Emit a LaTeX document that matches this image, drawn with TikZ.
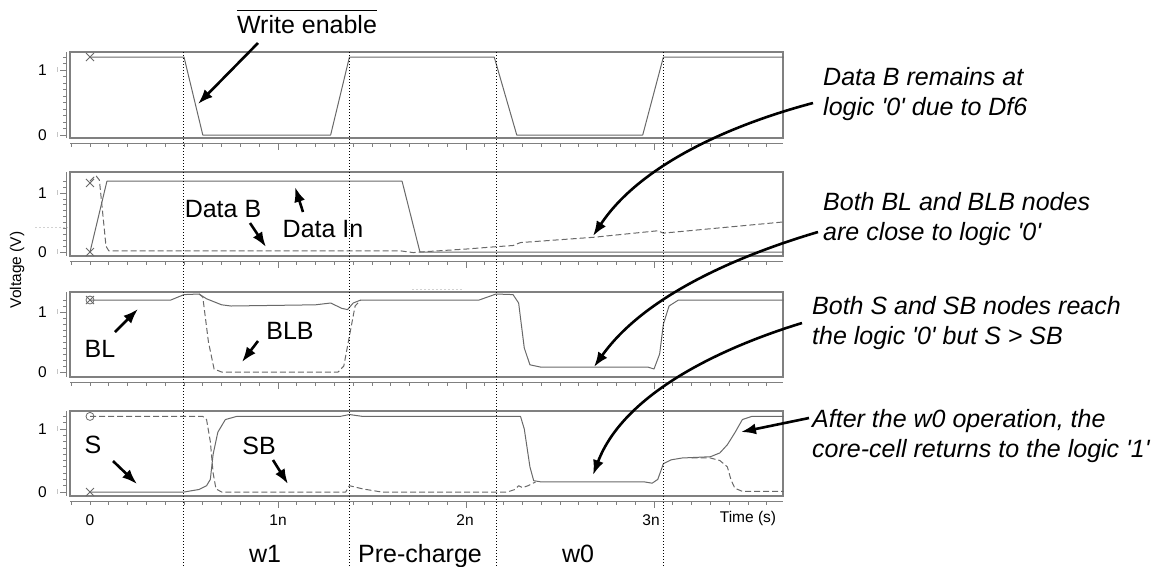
\documentclass[tikz,border=0pt]{standalone}
\usepackage{fontspec}
\setmainfont{Liberation Sans}
\usetikzlibrary{arrows.meta}
\definecolor{traceColor}{RGB}{105,105,105}
\definecolor{frameColor}{RGB}{128,128,128}
\tikzstyle{pixelGrid} = [x = 1pt, y = -1pt]
\tikzstyle{frameLine} = [color=frameColor, line width=1.4pt]
\tikzstyle{rulerLine} = [color=frameColor, line width=0.8pt]
\tikzstyle{faintLine} = [color=gray!35, line width=0.7pt, dash pattern=on 2pt off 2pt]
\tikzstyle{solidTrace} = [color=traceColor, line width=1pt, line join=round]
\tikzstyle{dashedTrace} = [color=traceColor, line width=1pt, line join=round, dash pattern=on 6pt off 3pt]
\tikzstyle{markLine} = [color=traceColor, line width=0.8pt]
\tikzstyle{phaseLine} = [color=black, line width=1pt, dash pattern=on 1pt off 2pt]
\tikzstyle{noteArrow} = [color=black, line width=2.6pt, -{Latex[length=15pt,width=11pt]}]
\tikzstyle{bigText} = [font=\fontsize{25}{30}\selectfont, inner sep=0pt, anchor=base]
\tikzstyle{noteText} = [font=\fontsize{25}{30}\selectfont\itshape, align=left, inner sep=0pt, anchor=north west]
\tikzstyle{tickText} = [font=\fontsize{15.5}{18}\selectfont, inner sep=0pt]
\newcommand{\straightQuote}{\textquotesingle}
\newcommand{\crossMark}[2]{\draw [markLine] (#1,#2) +(-4pt,-4pt) -- +(4pt,4pt) +(-4pt,4pt) -- +(4pt,-4pt);}
\newcommand{\circleMark}[2]{\draw [markLine] (#1,#2) circle (4pt);}
\newcommand{\panelFrame}[4]{
  \draw [frameLine] (70,#1) rectangle (783,#2);
  \draw [rulerLine] (66,#1) -- (66,#2);
  \foreach \level in {0,...,12} {
    \pgfmathsetmacro{\tickY}{#3 - \level * (#3 - #4) / 10}
    \draw [rulerLine] (63,\tickY) -- (66,\tickY);
  }
  \draw [rulerLine] (60,#3) -- (66,#3);
  \draw [rulerLine] (60,#4) -- (66,#4);
  \draw [color=gray!45, line width=0.8pt] (57,#3) +(0,-3) -- +(0,2);
  \draw [color=gray!45, line width=0.8pt] (57,#4) +(0,-3) -- +(0,2);
  \pgfmathsetmacro{\rulerY}{#2 + 5}
  \draw [rulerLine] (70,\rulerY) -- (783,\rulerY);
  \foreach \tickIndex in {-1,...,36} {
    \pgfmathsetmacro{\tickX}{90 + 18.8 * \tickIndex}
    \draw [rulerLine] (\tickX,\rulerY) -- +(0,4);
  }
  \foreach \tickX in {278,466,654} {
    \draw [rulerLine] (\tickX,\rulerY) -- +(0,7);
  }
}

\begin{document}
\begin{tikzpicture}[pixelGrid]
  \useasboundingbox (0,0) rectangle (1175,566);

  % panels: top, bottom, 0 V, 1 V
  \panelFrame{52}{138}{135}{70}
  \panelFrame{172}{256}{252}{193}
  \panelFrame{292}{377}{372}{312}
  \panelFrame{411}{496}{492}{429}
  \draw [faintLine] (35,227) -- (68,227);
  \draw [faintLine] (412,289) -- (463,289);

  % write enable
  \begin{scope}[shift={(90,135)}, x=188pt, y=65pt]
    \draw [solidTrace] (0,1.2) -- (0.5,1.2) -- (0.6,0) -- (1.28,0) -- (1.38,1.2) -- (2.15,1.2) -- (2.27,0) -- (2.94,0) -- (3.05,1.2) -- (3.69,1.2);
    \crossMark{0}{1.2}
  \end{scope}

  % data in / data b
  \begin{scope}[shift={(90,252)}, x=188pt, y=59pt]
    \draw [solidTrace] (0,0) -- (0.09,1.2) -- (1.66,1.2) -- (1.755,0) -- (3.69,0);
    \draw [dashedTrace] (0,1.2) -- (0.03,1.3) -- (0.05,1.22) -- (0.085,0.1) -- (0.1,0.02) -- (1.65,0.02) -- (1.72,-0.01) -- (1.755,0) -- (2.0,0.05) -- (2.16,0.09) -- (2.25,0.11) -- (2.29,0.16) -- (2.68,0.25) -- (3.02,0.36) -- (3.05,0.32) -- (3.69,0.51);
    \crossMark{0}{1.17}
    \crossMark{0}{0}
  \end{scope}

  % bit lines
  \begin{scope}[shift={(90,372)}, x=188pt, y=60pt]
    \draw [dashedTrace] (0.58,1.3) -- (0.6,1.25) -- (0.63,0.5) -- (0.66,0.05) -- (0.7,0) -- (1.32,0) -- (1.35,0.1) -- (1.38,0.6) -- (1.41,1.1) -- (1.44,1.2);
    \draw [solidTrace] (0,1.2) -- (0.43,1.2) -- (0.5,1.29) -- (0.58,1.3) -- (0.62,1.22) -- (0.7,1.12) -- (0.75,1.1) -- (1.2,1.12) -- (1.28,1.15) -- (1.34,1.06) -- (1.37,1.04) -- (1.4,1.15) -- (1.44,1.2) -- (2.07,1.2) -- (2.16,1.3) -- (2.25,1.29) -- (2.28,1.15) -- (2.31,0.4) -- (2.34,0.12) -- (2.4,0.08) -- (2.97,0.08) -- (3.0,0.05) -- (3.03,0.3) -- (3.05,0.8) -- (3.08,1.1) -- (3.13,1.2) -- (3.69,1.2);
    \circleMark{0}{1.2}
    \crossMark{0}{1.2}
  \end{scope}

  % storage nodes
  \begin{scope}[shift={(90,492)}, x=188pt, y=63pt]
    \draw [dashedTrace] (0,1.2) -- (0.6,1.2) -- (0.62,1.15) -- (0.64,0.8) -- (0.655,0.3) -- (0.67,0.05) -- (0.7,0) -- (1.36,0) -- (1.38,0.1) -- (1.45,0.05) -- (1.55,0) -- (2.22,0) -- (2.26,0.04) -- (2.28,0.1) -- (2.3,0.07) -- (2.33,0.1) -- (2.37,0.16);
    \draw [dashedTrace] (3.2,0.54) -- (3.3,0.54) -- (3.35,0.5) -- (3.39,0.4) -- (3.41,0.19) -- (3.43,0.06) -- (3.47,0.01) -- (3.69,0.01);
    \draw [solidTrace] (0,0) -- (0.5,0) -- (0.58,0.04) -- (0.62,0.1) -- (0.64,0.2) -- (0.655,0.6) -- (0.68,0.95) -- (0.72,1.15) -- (0.78,1.2) -- (1.33,1.2) -- (1.38,1.23) -- (1.45,1.2) -- (2.29,1.2) -- (2.31,1.0) -- (2.34,0.4) -- (2.36,0.18) -- (2.4,0.16) -- (2.95,0.16) -- (2.99,0.14) -- (3.02,0.2) -- (3.05,0.45) -- (3.09,0.51) -- (3.15,0.54) -- (3.3,0.56) -- (3.35,0.62) -- (3.39,0.75) -- (3.43,0.94) -- (3.47,1.15) -- (3.52,1.2) -- (3.69,1.2);
    \circleMark{0}{1.2}
    \crossMark{0}{0}
  \end{scope}

  % phase boundaries
  \foreach \phaseX in {183,349,496,663} {
    \draw [phaseLine] (\phaseX,52) -- (\phaseX,566);
  }

  % axes text
  \node [tickText, anchor=east] (p1One) at (47,70) {1};
  \node [tickText, anchor=east] (p1Zero) at (47,135) {0};
  \node [tickText, anchor=east] (p2One) at (47,193) {1};
  \node [tickText, anchor=east] (p2Zero) at (47,252) {0};
  \node [tickText, anchor=east] (p3One) at (47,312) {1};
  \node [tickText, anchor=east] (p3Zero) at (47,372) {0};
  \node [tickText, anchor=east] (p4One) at (47,429) {1};
  \node [tickText, anchor=east] (p4Zero) at (47,492) {0};
  \node [tickText, anchor=base] (tZero) at (90,525) {0};
  \node [tickText, anchor=base] (tOne) at (278,525) {1n};
  \node [tickText, anchor=base] (tTwo) at (465,525) {2n};
  \node [tickText, anchor=base] (tThree) at (651,525) {3n};
  \node [tickText, anchor=base] (timeLabel) at (748,522) {Time (s)};
  \node [tickText, rotate=90] (voltLabel) at (17,270) {Voltage (V)};

  % phase names
  \node [bigText] (w1Label) at (265,562) {w1};
  \node [bigText] (preLabel) at (420,562) {Pre-charge};
  \node [bigText] (w0Label) at (578,562) {w0};

  % signal names
  \node [bigText] (weLabel) at (307,33) {Write enable};
  \draw [line width=1.2pt] ([yshift=4pt]weLabel.north west) -- ([yshift=4pt]weLabel.north east);
  \node [bigText] (dataInLabel) at (323,237) {Data In};
  \node [bigText] (dataBLabel) at (223,217) {Data B};
  \node [bigText] (blLabel) at (100,357) {BL};
  \node [bigText] (blbLabel) at (290,339) {BLB};
  \node [bigText] (sLabel) at (93,453) {S};
  \node [bigText] (sbLabel) at (259,454) {SB};

  \coordinate (weTail) at (258,43);
  \coordinate (weTip) at (198,104);
  \coordinate (dataInTail) at (303,212);
  \coordinate (dataInTip) at (295,187);
  \coordinate (dataBTail) at (250,223);
  \coordinate (dataBTip) at (266,247);
  \coordinate (blTail) at (115,332);
  \coordinate (blTip) at (138,309);
  \coordinate (blbTail) at (258,341);
  \coordinate (blbTip) at (242,362);
  \coordinate (sTail) at (113,461);
  \coordinate (sTip) at (137,484);
  \coordinate (sbTail) at (273,460);
  \coordinate (sbTip) at (288,484);
  \draw [noteArrow] (weTail) -- (weTip);
  \draw [noteArrow] (dataInTail) -- (dataInTip);
  \draw [noteArrow] (dataBTail) -- (dataBTip);
  \draw [noteArrow] (blTail) -- (blTip);
  \draw [noteArrow] (blbTail) -- (blbTip);
  \draw [noteArrow] (sTail) -- (sTip);
  \draw [noteArrow] (sbTail) -- (sbTip);

  % notes on the right
  \node [noteText] (noteDataB) at (823,67) {Data B remains at\\logic \straightQuote0\straightQuote{} due to Df6};
  \node [noteText] (noteBitLines) at (823,192) {Both BL and BLB nodes\\are close to logic \straightQuote0\straightQuote};
  \node [noteText] (noteStorage) at (812,296) {Both S and SB nodes reach\\the logic \straightQuote0\straightQuote{} but S {\textgreater} SB};
  \node [noteText] (noteCoreCell) at (812,409) {After the w0 operation, the\\core-cell returns to the logic \straightQuote1\straightQuote};

  \coordinate (dataBFlat) at (593,236);
  \coordinate (bitLinesLow) at (594,367);
  \coordinate (storageLow) at (593,475);
  \coordinate (coreCellRise) at (741,432);
  \draw [noteArrow] ([shift={(-10,36)}]noteDataB.north west) .. controls (730,125) and (640,165) .. (dataBFlat);
  \draw [noteArrow] ([shift={(-5,40)}]noteBitLines.north west) .. controls (740,255) and (645,295) .. (bitLinesLow);
  \draw [noteArrow] ([shift={(-10,27)}]noteStorage.north west) .. controls (730,345) and (625,390) .. (storageLow);
  \draw [noteArrow] ([shift={(-3,9)}]noteCoreCell.north west) -- (coreCellRise);
\end{tikzpicture}
\end{document}
